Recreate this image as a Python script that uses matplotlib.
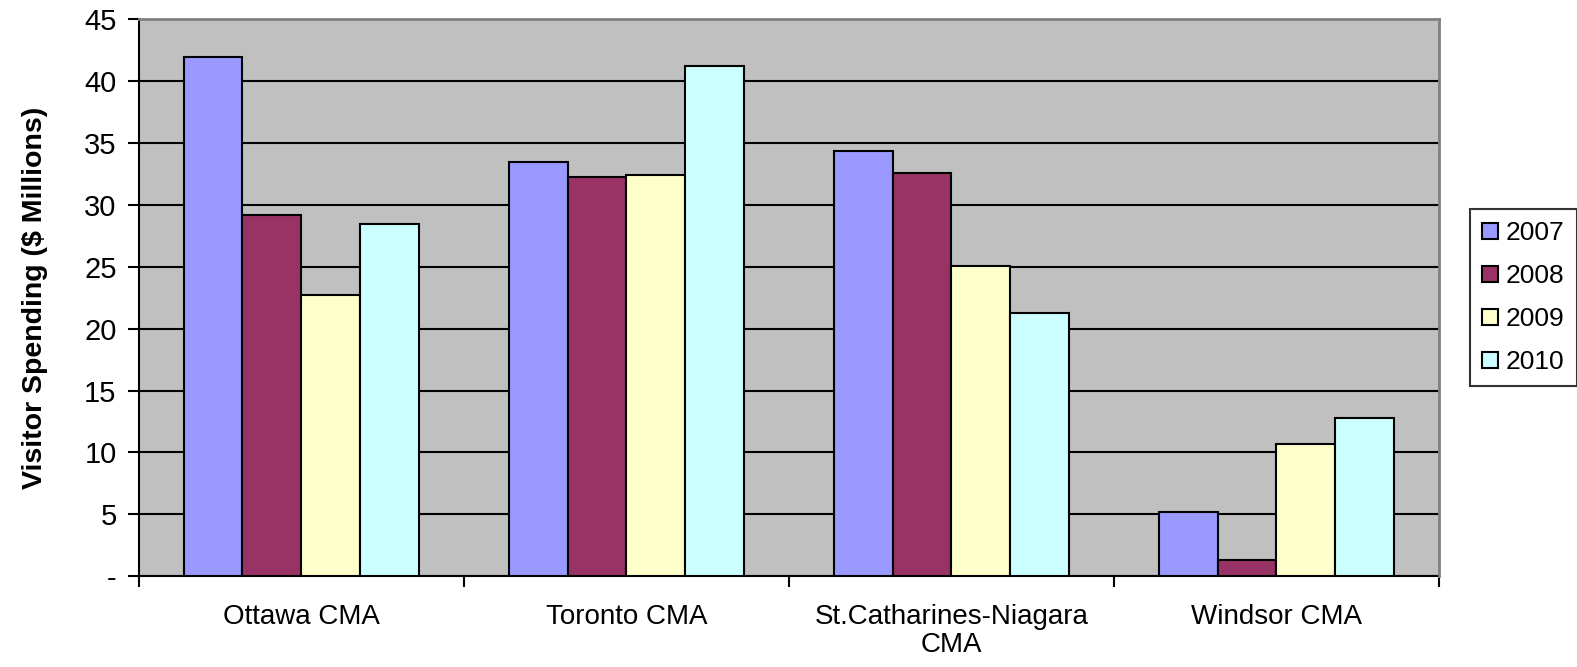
"""Visitor spending by CMA, 2007-2010."""

import matplotlib
matplotlib.use("Agg")
import matplotlib.pyplot as plt
import numpy as np

plt.rcParams["font.family"] = ["Liberation Sans", "DejaVu Sans"]

categories = ["Ottawa CMA", "Toronto CMA", "St.Catharines-Niagara\nCMA", "Windsor CMA"]
years = ["2007", "2008", "2009", "2010"]
spend_2007 = [42.0, 33.5, 34.4, 5.2]
spend_2008 = [29.2, 32.3, 32.6, 1.3]
spend_2009 = [22.7, 32.4, 25.1, 10.7]
spend_2010 = [28.5, 41.2, 21.3, 12.8]
y_ticks = [0, 5, 10, 15, 20, 25, 30, 35, 40, 45]
y_tick_labels = ["-", "5", "10", "15", "20", "25", "30", "35", "40", "45"]

colors = ["#9999FF", "#993366", "#FFFFCC", "#CCFFFF"]
series = [spend_2007, spend_2008, spend_2009, spend_2010]

fig = plt.figure(figsize=(15.77, 6.67), dpi=100)
ax = fig.add_axes([0.088, 0.1364, 0.8245, 0.8344])
ax.set_facecolor("#C0C0C0")

x = np.arange(len(categories))
width = 0.181
for i, (values, year) in enumerate(zip(series, years)):
    offset = (i - 1.5) * width
    ax.bar(x + offset, values, width, color=colors[i], edgecolor="black",
           linewidth=1.5, label=year, zorder=3)

ax.set_xlim(-0.5, len(categories) - 0.5)
ax.set_ylim(0, 45)
ax.set_yticks(y_ticks)
ax.set_yticklabels(y_tick_labels, fontsize=21)
ax.yaxis.grid(True, color="black", linewidth=1.5, zorder=1)
ax.set_axisbelow(True)

# category boundaries get the ticks, names sit between them
ax.set_xticks(np.arange(-0.5, len(categories), 1.0))
ax.set_xticklabels([])
ax.set_xticks(x, minor=True)
ax.set_xticklabels(categories, minor=True, fontsize=20, linespacing=1.1)
ax.tick_params(axis="x", which="minor", length=0, pad=20)
ax.tick_params(axis="x", which="major", length=8, width=1.5, direction="out")
ax.tick_params(axis="y", length=8, width=1.5, direction="out", pad=8)

for side in ["top", "right"]:
    ax.spines[side].set_color("#808080")
    ax.spines[side].set_linewidth(2)
    ax.spines[side].set_zorder(4)
for side in ["left", "bottom"]:
    ax.spines[side].set_color("black")
    ax.spines[side].set_linewidth(1.5)

ax.set_ylabel("Visitor Spending ($ Millions)", fontsize=20.5, fontweight="bold", labelpad=26)

legend = ax.legend(loc="center left", bbox_to_anchor=(1.016, 0.5), fontsize=19,
                   frameon=True, fancybox=False, edgecolor="black",
                   handlelength=0.6, handleheight=0.6, handletextpad=0.3,
                   labelspacing=0.72, borderpad=0.45, borderaxespad=0.4)
legend.get_frame().set_linewidth(1.5)

fig.savefig("out.png", dpi=100)
plt.close(fig)
